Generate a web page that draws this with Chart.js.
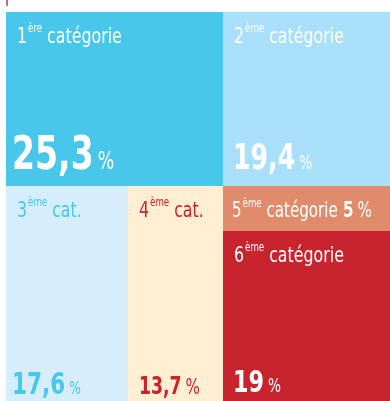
<!DOCTYPE html>
<html lang="fr">
<head>
<meta charset="utf-8">
<script src="https://cdn.jsdelivr.net/npm/chart.js@4.4.1/dist/chart.umd.min.js"></script>
<style>
html, body { margin: 0; padding: 0; background: #fff; }
#wrap { width: 390px; height: 401px; position: relative; }
</style>
</head>
<body>
<div id="wrap"><canvas id="treeChart" width="390" height="401"></canvas></div>
<script>
// data
const ordinals = ["1", "2", "3", "4", "5", "6"];
const suffixes = ["ère", "ème", "ème", "ème", "ème", "ème"];
const names = ["catégorie", "catégorie", "cat.", "cat.", "catégorie", "catégorie"];
const values = [25.3, 19.4, 17.6, 13.7, 5, 19];

// how the blocks are grouped: left column (top + bottom pair), right column stack
const leftTop = 0;
const leftBottom = [2, 3];
const rightStack = [1, 4, 5];

// styles
const FONT = "'DejaVu Sans Condensed', 'DejaVu Sans', sans-serif";
const SQUEEZE = 0.8; // narrow the condensed font a bit more
const fills = ["#48c7ea", "#a9dff8", "#d6eefb", "#ffeed2", "#e08b6b", "#c8242d"];
const textColors = ["#ffffff", "#ffffff", "#48c7ea", "#c8242d", "#ffffff", "#ffffff"];
const numberSizes = [46, 35, 30, 24, 21, 31];
const percentSizes = [24, 19, 17, 21, 21, 19];
const numberOffsets = [6, 10, 6, 11, 0, 10];
const numberPads = [17, 17, 7, 7, 0, 9];

function sum(arr) {
    return arr.reduce((a, b) => a + b, 0);
}

// treemap layout in a 0..100 x 0..100 value space
function buildRects() {
    const total = sum(values);
    const leftSum = values[leftTop] + sum(leftBottom.map(i => values[i]));
    const splitX = leftSum / total * 100;
    const rects = [];

    const topH = values[leftTop] / leftSum * 100;
    rects[leftTop] = { x0: 0, x1: splitX, y0: 0, y1: topH };

    const bottomSum = sum(leftBottom.map(i => values[i]));
    let x = 0;
    leftBottom.forEach(i => {
        const w = values[i] / bottomSum * splitX;
        rects[i] = { x0: x, x1: x + w, y0: topH, y1: 100 };
        x += w;
    });

    const rightSum = sum(rightStack.map(i => values[i]));
    let y = 0;
    rightStack.forEach(i => {
        const h = values[i] / rightSum * 100;
        rects[i] = { x0: splitX, x1: 100, y0: y, y1: y + h };
        y += h;
    });
    return rects;
}

const rects = buildRects();

function fmt(v) {
    return String(v).replace(".", ",");
}

// draws text squeezed horizontally, returns the drawn width
function squeezed(ctx, text, x, y) {
    ctx.save();
    ctx.translate(x, y);
    ctx.scale(SQUEEZE, 1);
    ctx.fillText(text, 0, 0);
    ctx.restore();
    return ctx.measureText(text).width * SQUEEZE;
}

function drawLabel(ctx, i, x, baseline, size) {
    ctx.textBaseline = "alphabetic";
    ctx.textAlign = "left";
    ctx.font = "normal " + size + "px " + FONT;
    x += squeezed(ctx, ordinals[i], x, baseline) + 1;
    const supSize = Math.round(size * 0.55);
    ctx.font = "normal " + supSize + "px " + FONT;
    x += squeezed(ctx, suffixes[i], x, baseline - size * 0.48);
    ctx.font = "normal " + size + "px " + FONT;
    x += ctx.measureText(" ").width * SQUEEZE;
    x += squeezed(ctx, names[i], x, baseline);
    return x;
}

function drawValue(ctx, i, x, baseline) {
    ctx.textAlign = "left";
    ctx.textBaseline = "alphabetic";
    ctx.font = "bold " + numberSizes[i] + "px " + FONT;
    x += squeezed(ctx, fmt(values[i]), x, baseline) + 4;
    ctx.font = "normal " + percentSizes[i] + "px " + FONT;
    squeezed(ctx, "%", x, baseline);
}

const treemapPlugin = {
    id: "treemapRects",
    beforeDatasetsDraw(chart) {
        const { ctx, scales: { x, y } } = chart;
        ctx.save();

        // small mark at the top left
        ctx.strokeStyle = "#b5338a";
        ctx.lineWidth = 1.5;
        ctx.beginPath();
        ctx.moveTo(7, 0);
        ctx.lineTo(7, 6);
        ctx.stroke();

        rects.forEach((r, i) => {
            const left = Math.round(x.getPixelForValue(r.x0));
            const right = Math.round(x.getPixelForValue(r.x1));
            const top = Math.round(y.getPixelForValue(r.y0));
            const bottom = Math.round(y.getPixelForValue(r.y1));
            ctx.fillStyle = fills[i];
            ctx.fillRect(left, top, right - left, bottom - top);

            ctx.fillStyle = textColors[i];
            if (bottom - top < 60) {
                // too flat: value goes on the same line as the name
                const base = Math.round((top + bottom) / 2 + 8);
                let tx = drawLabel(ctx, i, left + 9, base, 21);
                ctx.font = "bold " + numberSizes[i] + "px " + FONT;
                tx += ctx.measureText(" ").width * SQUEEZE;
                drawValue(ctx, i, tx, base);
            } else {
                drawLabel(ctx, i, left + 11, top + 31, 22);
                drawValue(ctx, i, left + numberOffsets[i], bottom - numberPads[i]);
            }
        });
        ctx.restore();
    }
};

new Chart(document.getElementById("treeChart"), {
    type: "scatter",
    data: {
        datasets: [{
            label: "Catégories",
            data: rects.map(r => ({ x: (r.x0 + r.x1) / 2, y: (r.y0 + r.y1) / 2 })),
            pointRadius: 0,
            pointHoverRadius: 0
        }]
    },
    options: {
        responsive: false,
        animation: false,
        layout: {
            padding: { left: 6, top: 12, right: 0, bottom: 0 }
        },
        scales: {
            x: { type: "linear", min: 0, max: 100, display: false },
            y: { type: "linear", min: 0, max: 100, reverse: true, display: false }
        },
        plugins: {
            legend: { display: false },
            tooltip: { enabled: false }
        }
    },
    plugins: [treemapPlugin]
});
</script>
</body>
</html>
